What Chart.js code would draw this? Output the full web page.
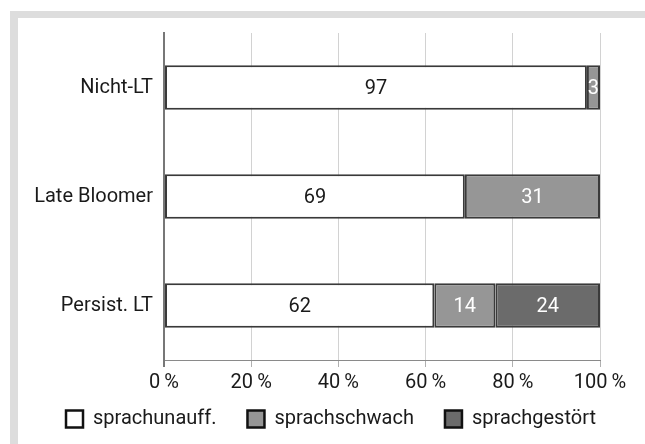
<!DOCTYPE html>
<html><head><meta charset="utf-8">
<script src="https://cdn.jsdelivr.net/npm/chart.js@4.4.1/dist/chart.umd.min.js"></script>
<style>
html,body{margin:0;padding:0;background:#fff;}
#wrap{position:relative;width:645px;height:444px;overflow:hidden;}
#frame{position:absolute;left:10px;top:11px;width:700px;height:500px;border-top:7px solid #dddddd;border-left:8px solid #dddddd;}
canvas{position:absolute;left:0;top:0;}
</style></head><body>
<div id="wrap"><div id="frame"></div><canvas id="c" width="645" height="444"></canvas></div>
<script>
const categories = ['Nicht-LT', 'Late Bloomer', 'Persist. LT'];
const seriesNames = ['sprachunauff.', 'sprachschwach', 'sprachgestört'];
const sprachunauff = [97, 69, 62];
const sprachschwach = [3, 31, 14];
const sprachgestoert = [null, null, 24];
const tickValues = [0, 20, 40, 60, 80, 100];
const tickLabels = ['0\u2009%', '20\u2009%', '40\u2009%', '60\u2009%', '80\u2009%', '100\u2009%'];

const FONT = 'Roboto';

const valueLabels = {
  id: 'valueLabels',
  afterLayout(chart) {
    // let the x tick labels draw below the (compact) axis box without clipping
    const xs = chart.scales.x;
    xs.bottom = xs.top + 40;
  },
  afterDatasetsDraw(chart) {
    const ctx = chart.ctx;
    ctx.save();
    ctx.font = '20px ' + FONT;
    ctx.textAlign = 'center';
    ctx.textBaseline = 'middle';
    chart.data.datasets.forEach((ds, i) => {
      const meta = chart.getDatasetMeta(i);
      meta.data.forEach((el, j) => {
        const v = ds.data[j];
        if (v == null) return;
        const p = el.getProps(['x', 'y', 'base'], true);
        ctx.fillStyle = ds.labelColor;
        ctx.fillText(String(v), (p.x + p.base) / 2, p.y + 1);
      });
    });
    ctx.restore();
  }
};

function draw() {
  new Chart(document.getElementById('c'), {
    type: 'bar',
    data: {
      labels: categories,
      datasets: [
        { label: seriesNames[0], data: sprachunauff, backgroundColor: '#ffffff', labelColor: '#1a1a1a' },
        { label: seriesNames[1], data: sprachschwach, backgroundColor: '#969696', labelColor: '#ffffff' },
        { label: seriesNames[2], data: sprachgestoert, backgroundColor: '#6b6b6b', labelColor: '#ffffff' }
      ].map(d => Object.assign(d, {
        borderColor: '#3a3a3a', borderWidth: 2, borderSkipped: false,
        barPercentage: 0.41, categoryPercentage: 1
      }))
    },
    options: {
      indexAxis: 'y',
      responsive: false,
      animation: false,
      layout: { padding: { left: 17, right: 0, top: 33, bottom: 5 } },
      plugins: {
        tooltip: { enabled: false },
        legend: {
          position: 'bottom',
          labels: {
            font: { family: FONT, size: 20 },
            color: '#1a1a1a',
            boxWidth: 17, boxHeight: 17, padding: 31,
            generateLabels(chart) {
              const items = Chart.defaults.plugins.legend.labels.generateLabels(chart);
              items.forEach(it => { it.lineWidth = 2.5; it.strokeStyle = '#111111'; });
              return items;
            }
          }
        }
      },
      scales: {
        x: {
          type: 'linear', min: 0, max: 100, stacked: true,
          afterBuildTicks(scale) { scale.ticks = tickValues.map(v => ({ value: v })); },
          ticks: {
            callback: (v, i) => tickLabels[i],
            font: { family: FONT, size: 20 }, color: '#1a1a1a',
            padding: 4, maxRotation: 0, autoSkip: false
          },
          grid: {
            color: c => c.index === 0 ? '#777777' : '#d2d2d2',
            tickColor: c => c.index === 0 ? '#777777' : '#b0b0b0',
            lineWidth: c => c.index === 0 ? 2 : 1,
            tickLength: 7
          },
          border: { display: true, color: '#8a8a8a', width: 1 },
          afterFit(scale) { scale.height = 18; scale.paddingRight = 45; }
        },
        y: {
          type: 'category', stacked: true,
          grid: { display: false, drawTicks: false },
          border: { display: true, color: '#777777', width: 2 },
          ticks: { font: { family: FONT, size: 20 }, color: '#1a1a1a', padding: 11 },
          afterFit(scale) { scale.width = 147; }
        }
      }
    },
    plugins: [valueLabels]
  });
}
if (document.fonts && document.fonts.load) {
  document.fonts.load('20px ' + FONT).then(draw, draw);
} else { draw(); }
</script>
</body></html>
